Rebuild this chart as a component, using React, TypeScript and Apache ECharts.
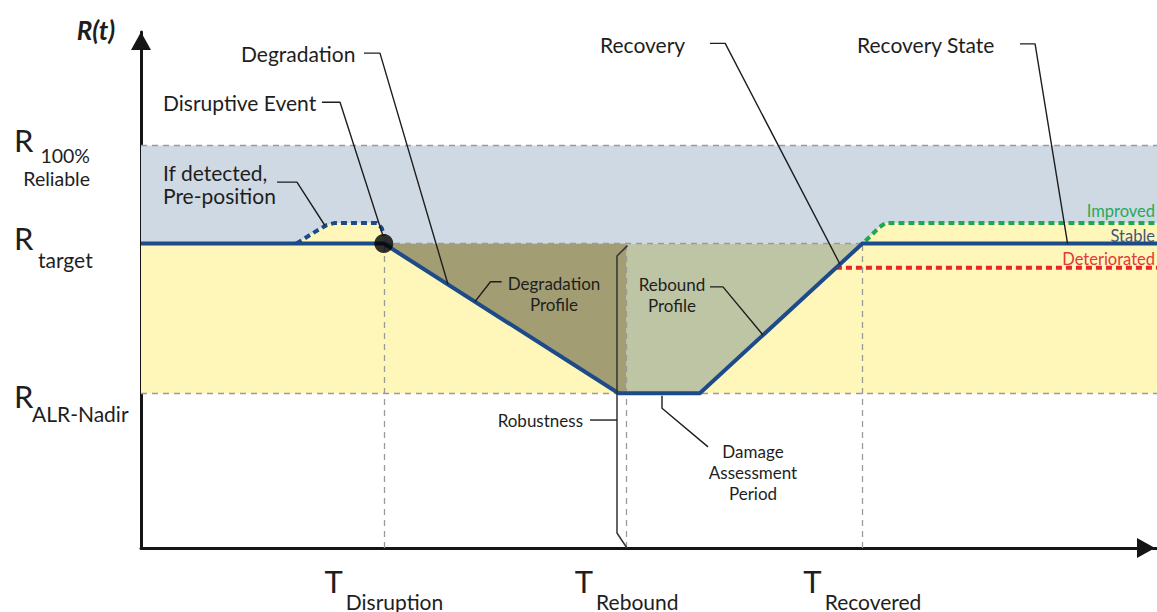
import React, { useEffect, useRef } from "react";
import * as echarts from "echarts";

// ---- Levels (R axis, 0..100) ----
const R_100 = 78;
const R_TARGET = 59;
const R_NADIR = 30;
const R_IMPROVED = 63;
const R_DETERIORATED = 54.3;

// ---- Tick labels ----
const yTickValues = [R_100, R_TARGET, R_NADIR];
const yTickSubs = ["100%\nReliable", "target", "ALR-Nadir"];
const xTickValues = [23.9, 47.8, 71.0];
const xTickSubs = ["Disruption", "Rebound", "Recovered"];

// ---- Series data (t, R) ----
const resiliencePath = [[0, 59], [23.9, 59], [47, 30], [55, 30], [71, 59], [100, 59]];
const degradationArea = [[23.9, 59], [47, 30], [47.8, 30]];
const reboundArea = [[47.8, 30], [55, 30], [71, 59]];
const prePositionPath = [[15.3, 59], [16.9, 61], [18.3, 62.6], [19.1, 63], [23.2, 63], [23.7, 62], [23.9, 60.5]];
const improvedPath = [[71.3, 59.5], [72.7, 62.2], [73.3, 63], [100, 63]];
const deterioratedPath = [[68.4, 54.3], [100, 54.3]];
const disruptionPoint = [[23.9, 59]];
const robustnessBracket = [[47.88, 58.6], [46.85, 56.6], [46.85, 2.9], [47.83, 0]];

const leaderLines = [
  [[21.95, 95.9], [23.52, 95.9], [30.22, 51.07]],
  [[17.81, 86.4], [19.59, 86.4], [23.8, 60.6]],
  [[13.39, 70.9], [15.35, 70.9], [18.1, 62.5]],
  [[56.0, 97.8], [57.5, 97.8], [68.8, 55]],
  [[86.52, 97.7], [88.0, 97.7], [91.2, 59]],
  [[35.5, 51.6], [34.4, 51.6], [32.87, 47.74]],
  [[56.0, 50.6], [57.28, 50.6], [61.22, 41.27]],
  [[44.19, 24.8], [46.85, 24.8]],
  [[51.28, 29.5], [51.28, 27.1], [55.81, 19.6]],
];

const FONT = "Lato, 'Open Sans', sans-serif";
const BLUE_BAND = "#cfd9e4";
const YELLOW = "#fff6b9";
const OLIVE = "#a39d73";
const SAGE = "#bec5a5";
const LINE_BLUE = "#1d4b8a";
const GREEN = "#1fa84f";
const RED = "#e8262a";
const GREY = "#9a9a9a";
const INK = "#1e1e1e";

function txt(text: string, x: number, y: number, size: number, align: string, extra: any = {}) {
  const style = extra.fontStyle || "normal";
  const weight = extra.weight || "normal";
  return {
    type: "text",
    z: 100,
    silent: true,
    style: {
      text,
      x,
      y,
      fill: extra.fill || INK,
      font: `${style} ${weight} ${size}px ${FONT}`,
      fontStyle: style,
      fontWeight: weight,
      fontSize: size,
      fontFamily: FONT,
      lineHeight: extra.lineHeight || size,
      align,
      textAlign: align,
      verticalAlign: "middle",
      textVerticalAlign: "middle",
    },
  };
}

export default function App() {
  const ref = useRef<HTMLDivElement>(null);
  useEffect(() => {
    if (!ref.current) return;
    const chart = echarts.init(ref.current, undefined, { renderer: "svg" });
    const lineSeries = (data: number[][], extra: any) => ({
      type: "line",
      data,
      symbol: "none",
      showSymbol: false,
      silent: true,
      ...extra,
    });
    const vLines = xTickValues.map((x) => [{ coord: [x, 0] }, { coord: [x, R_TARGET] }]);
    const hLines = yTickValues.map((y) => [{ coord: [0, y] }, { coord: [100, y] }]);
    const option: any = {
      animation: false,
      grid: { left: 141, top: 32, width: 1016, height: 516, containLabel: false, outerBoundsMode: "none" },
      xAxis: {
        type: "value",
        min: 0,
        max: 100,
        axisLine: {
          show: true,
          onZero: false,
          lineStyle: { color: "#151515", width: 3 },
          symbol: ["none", "triangle"],
          symbolSize: [20, 18],
          symbolOffset: [0, -11],
        },
        axisTick: { show: true, customValues: xTickValues, inside: true, length: 5, lineStyle: { color: "#888", width: 1 } },
        axisLabel: { show: false },
        splitLine: { show: false },
      },
      yAxis: {
        type: "value",
        min: 0,
        max: 100,
        axisLine: {
          show: true,
          onZero: false,
          lineStyle: { color: "#151515", width: 3 },
          symbol: ["none", "triangle"],
          symbolSize: [20, 18],
          symbolOffset: [0, -9],
        },
        axisTick: { show: false },
        axisLabel: { show: false },
        splitLine: { show: false },
      },
      series: [
        lineSeries([[0, R_TARGET]], {
          z: 1,
          lineStyle: { width: 0, opacity: 0 },
          markArea: {
            silent: true,
            data: [
              [{ coord: [0, R_TARGET], itemStyle: { color: BLUE_BAND } }, { coord: [100, R_100] }],
              [{ coord: [0, R_NADIR], itemStyle: { color: YELLOW } }, { coord: [100, R_TARGET] }],
            ],
          },
        }),
        lineSeries(prePositionPath, { z: 2, lineStyle: { width: 0 }, areaStyle: { color: YELLOW, opacity: 1, origin: R_TARGET } }),
        lineSeries(improvedPath, { z: 2, lineStyle: { width: 0 }, areaStyle: { color: YELLOW, opacity: 1, origin: R_TARGET } }),
        lineSeries(degradationArea, { z: 2, lineStyle: { width: 0 }, areaStyle: { color: OLIVE, opacity: 1, origin: R_TARGET } }),
        lineSeries(reboundArea, { z: 2, lineStyle: { width: 0 }, areaStyle: { color: SAGE, opacity: 1, origin: R_TARGET } }),
        lineSeries([[0, R_NADIR]], {
          z: 3,
          lineStyle: { width: 0, opacity: 0 },
          markLine: {
            silent: true,
            symbol: ["none", "none"],
            label: { show: false },
            lineStyle: { color: GREY, width: 1.3, type: [6, 5] },
            data: [...hLines, ...vLines],
          },
        }),
        lineSeries(prePositionPath, { z: 4, lineStyle: { color: LINE_BLUE, width: 4, type: [6, 4] } }),
        lineSeries(improvedPath, { z: 4, lineStyle: { color: GREEN, width: 4, type: [6, 4] } }),
        lineSeries(deterioratedPath, { z: 4, lineStyle: { color: RED, width: 4, type: [6, 4] } }),
        lineSeries(resiliencePath, { z: 5, lineStyle: { color: LINE_BLUE, width: 4, join: "miter" } }),
        {
          type: "scatter",
          z: 6,
          silent: true,
          data: disruptionPoint,
          symbol: "circle",
          symbolSize: 19,
          itemStyle: { color: "#000" },
        },
        lineSeries(robustnessBracket, { z: 7, lineStyle: { color: "#333", width: 1.5 } }),
        ...leaderLines.map((d) => lineSeries(d, { z: 7, lineStyle: { color: INK, width: 1.4 } })),
      ],
    };
    chart.setOption(option);

    const px = (x: number, y: number) => chart.convertToPixel({ gridIndex: 0 }, [x, y]) as number[];
    const canvas = document.createElement("canvas");
    const ctx = canvas.getContext("2d")!;
    const measure = (s: string, size: number) => {
      ctx.font = `${size}px ${FONT}`;
      return ctx.measureText(s).width;
    };

    const g: any[] = [];
    // y tick labels
    const yOffsets = [
      { r: -5.5, dx: 90, dy: 21.5, align: "right", size: 19.5, lh: 23.5 },
      { r: -6, dx: 38, dy: 16, align: "left", size: 21, lh: 21 },
      { r: 2.5, dx: 32, dy: 20, align: "left", size: 21, lh: 21 },
    ];
    yTickValues.forEach((v, i) => {
      const p = px(0, v);
      const o = yOffsets[i];
      g.push(txt("R", 14, p[1] + o.r, 31, "left"));
      g.push(txt(yTickSubs[i], o.dx, p[1] + o.dy, o.size, o.align, { lineHeight: o.lh }));
    });
    // x tick labels
    xTickValues.forEach((v, i) => {
      const p = px(v, 0);
      const wT = measure("T", 31);
      const wS = measure(xTickSubs[i], 21);
      const total = wT + 3 + wS;
      const left = p[0] - total / 2;
      g.push(txt("T", left, p[1] + 33, 31, "left"));
      g.push(txt(xTickSubs[i], left + wT + 3, p[1] + 53, 21, "left"));
    });
    // annotations
    g.push(txt("R(t)", 96, 30, 26, "center", { weight: "bold", fontStyle: "italic" }));
    g.push(txt("Degradation", 241, 53, 21, "left"));
    g.push(txt("Disruptive Event", 163, 102, 21, "left"));
    g.push(txt("If detected,\nPre-position", 163, 183.5, 21, "left", { lineHeight: 23 }));
    g.push(txt("Recovery", 600, 44, 21, "left"));
    g.push(txt("Recovery State", 857, 44, 21, "left"));
    g.push(txt("Degradation\nProfile", 554, 293.5, 17, "center", { lineHeight: 21 }));
    g.push(txt("Rebound\nProfile", 672, 294.5, 17, "center", { lineHeight: 21 }));
    g.push(txt("Robustness", 583, 420, 17, "right"));
    g.push(txt("Damage\nAssessment\nPeriod", 753, 472, 17, "center", { lineHeight: 21 }));
    g.push(txt("Improved", 1155, 211, 16.5, "right", { fill: "#27a95a" }));
    g.push(txt("Stable", 1155, 236, 16.5, "right", { fill: "#3e5778" }));
    g.push(txt("Deteriorated", 1155, 259, 16.5, "right", { fill: "#e0393b" }));

    chart.setOption({ graphic: g });
    return () => chart.dispose();
  }, []);
  return (
    <div
      ref={ref}
      style={{ position: "fixed", left: 0, top: 0, width: 1157, height: 612, background: "#fff" }}
    />
  );
}
